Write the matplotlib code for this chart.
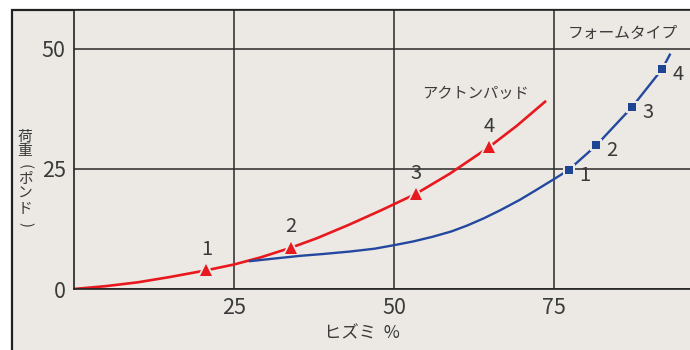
import matplotlib
matplotlib.use('Agg')
import matplotlib.pyplot as plt
from matplotlib.patches import Rectangle

plt.rcParams['font.family'] = ['Noto Sans CJK JP', 'DejaVu Sans']

# アクトンパッド (red)
pad_x = [0, 5, 10, 15, 20.7, 25, 29.2, 33.9, 38, 43, 48, 53.4, 58.7, 64.8, 69.2, 73.6]
pad_y = [0, 0.6, 1.4, 2.5, 3.9, 5.1, 6.6, 8.6, 10.6, 13.4, 16.4, 19.8, 24.0, 29.5, 34.0, 39.0]
pad_mark_x = [20.7, 33.9, 53.4, 64.8]
pad_mark_y = [3.9, 8.6, 19.8, 29.5]

# フォームタイプ (blue)
foam_x = [27.5, 31, 35.3, 39, 43.1, 47, 50.3, 53, 56.1, 59, 61.4, 64, 66.6, 69.7,
          72.2, 74.9, 77.3, 81.6, 87.2, 91.9, 93.1]
foam_y = [5.8, 6.3, 6.9, 7.3, 7.8, 8.4, 9.2, 9.9, 10.9, 12.0, 13.2, 14.7, 16.4, 18.6,
          20.6, 22.8, 24.8, 29.9, 37.9, 45.8, 48.8]
foam_mark_x = [77.3, 81.6, 87.2, 91.9]
foam_mark_y = [24.8, 29.9, 37.9, 45.8]

mark_labels = ['1', '2', '3', '4']
xticks = [25, 50, 75]
yticks = [0, 25, 50]
ylabel_chars = ['荷', '重', '(', 'ポ', 'ン', 'ド', ')']

W, H = 690, 350
bg = '#ece9e4'
ink = '#3a3a3a'
red = '#e8191e'
blue = '#2448a0'

fig = plt.figure(figsize=(W / 100, H / 100), dpi=100)
fig.patch.set_facecolor('white')
fig.add_artist(Rectangle((12 / W, -0.1), 1.2, (H - 10) / H + 0.1, transform=fig.transFigure,
                         facecolor=bg, edgecolor='#222222', lw=1.6, zorder=0))

ax = fig.add_axes([74 / W, (H - 289) / H, (W - 74) / W, (289 - 10) / H])
ax.set_facecolor(bg)
ax.set_xlim(0, 96.25)
ax.set_ylim(0, 58.1)
for s in ['left', 'bottom', 'top']:
    ax.spines[s].set_color('#222222')
    ax.spines[s].set_linewidth(1.2)
ax.spines['right'].set_visible(False)
ax.set_xticks(xticks)
ax.set_yticks(yticks)
ax.tick_params(length=0, labelsize=15.5, labelcolor=ink, pad=6)
ax.grid(True, color='#2a2a2a', lw=1.1)
ax.set_axisbelow(True)

# background-coloured halo under each marker leaves the small gap in the line
ax.plot(pad_x, pad_y, color=red, lw=1.9, zorder=2)
ax.plot(pad_mark_x, pad_mark_y, ls='none', marker='^', ms=14, color=bg, mew=0, zorder=2.5)
ax.plot(foam_x, foam_y, color=blue, lw=1.7, zorder=3)
ax.plot(foam_mark_x, foam_mark_y, ls='none', marker='s', ms=9, color=bg, mew=0, zorder=4)
ax.plot(pad_mark_x, pad_mark_y, ls='none', marker='^', ms=9, color=red, mew=0, zorder=5)
ax.plot(foam_mark_x, foam_mark_y, ls='none', marker='s', ms=5.8, color='#1d4594', mew=0, zorder=5)

for lab, x, y in zip(mark_labels, pad_mark_x, pad_mark_y):
    ax.annotate(lab, (x, y), xytext=(0, 15), textcoords='offset points',
                ha='center', va='center', fontsize=14.5, color=ink)
for lab, x, y in zip(mark_labels, foam_mark_x, foam_mark_y):
    ax.annotate(lab, (x, y), xytext=(11.5, -4), textcoords='offset points',
                ha='center', va='center', fontsize=14.5, color=ink)

ax.text(62.7, 40.8, 'アクトンパッド', ha='center', va='center', fontsize=11, color=ink)
ax.text(85.8, 53.3, 'フォームタイプ', ha='center', va='center', fontsize=11.3, color=ink)
ax.text(45, -9.2, 'ヒズミ  %', ha='center', va='center', fontsize=12.5, color=ink, clip_on=False)

for ch, py in zip(ylabel_chars, [136.5, 151.5, 166, 178.5, 194, 208.5, 225]):
    rot = -90 if ch in '()' else 0
    fig.text(25 / W, 1 - py / H, ch, ha='center', va='center', fontsize=10.6, color=ink,
             rotation=rot, rotation_mode='anchor')

fig.savefig('out.png', dpi=100, facecolor='white')
